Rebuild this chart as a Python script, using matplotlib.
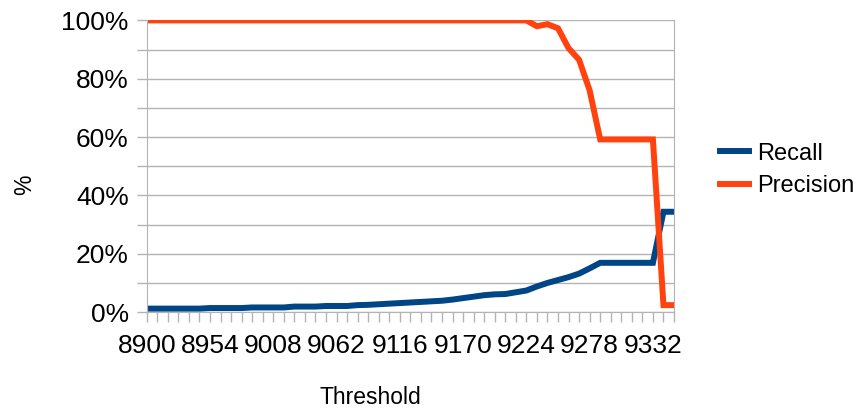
import matplotlib
matplotlib.use("Agg")
import matplotlib.pyplot as plt
from matplotlib.ticker import FixedLocator, FuncFormatter

plt.rcParams['font.family'] = ['Liberation Sans', 'DejaVu Sans']

# thresholds, one category every 9 units
thresholds = list(range(8900, 9351, 9))

recall = [1.2, 1.2, 1.2, 1.2, 1.2, 1.2,
          1.4, 1.4, 1.4, 1.4, 1.6, 1.6, 1.6, 1.6,
          1.9, 1.9, 1.9, 2.1, 2.1, 2.1,
          2.4, 2.5, 2.7, 2.9, 3.1, 3.3, 3.5, 3.7, 3.9, 4.3,
          4.8, 5.3, 5.8, 6.1, 6.2, 6.8, 7.4, 8.8, 10.0, 11.0,
          12.0, 13.2, 15.0, 16.9, 16.9, 16.9, 16.9, 16.9, 16.9,
          34.4, 34.4]

precision = [100.0] * 37 + [98.0, 98.7, 97.3, 90.5, 86.5, 76.0,
                            59.2, 59.2, 59.2, 59.2, 59.2, 59.2,
                            2.4, 2.4]

series_names = ['Recall', 'Precision']
colors = ['#004586', '#ff420e']
grey = '#b3b3b3'

fig = plt.figure(figsize=(8.63, 4.08), dpi=100)
ax = fig.add_axes([0.170, 0.235, 0.611, 0.715])

xs = list(range(len(thresholds)))
ax.plot(xs, recall, color=colors[0], lw=4.3, label=series_names[0], solid_joinstyle='miter')
ax.plot(xs, precision, color=colors[1], lw=4.3, label=series_names[1], solid_joinstyle='miter')

ax.set_xlim(0, len(thresholds) - 1)
ax.set_ylim(0, 100)

ax.set_xticks(xs)
ax.set_xticklabels([str(t) if i % 6 == 0 else '' for i, t in enumerate(thresholds)])
ax.yaxis.set_major_locator(FixedLocator(range(0, 101, 20)))
ax.yaxis.set_minor_locator(FixedLocator(range(10, 100, 20)))
ax.yaxis.set_major_formatter(FuncFormatter(lambda v, p: '%d%%' % v))

ax.tick_params(axis='x', length=7, width=1, color=grey, labelsize=19, pad=9, direction='out')
ax.tick_params(axis='y', which='both', length=7, width=1, color=grey, labelsize=19, pad=6, direction='out')

ax.grid(True, axis='y', which='both', color=grey, lw=1)
ax.set_axisbelow(True)
for side in ['left', 'bottom', 'right']:
    ax.spines[side].set_color(grey)
ax.spines['top'].set_visible(False)

# axis titles sit off-centre in the original, so place them on the figure
fig.text(370 / 863, 1 - 397 / 408, 'Threshold', fontsize=16.5, ha='center', va='center')
fig.text(25 / 863, 1 - 185 / 408, '%', fontsize=16.5, ha='center', va='center', rotation=90)

leg = ax.legend(loc='center left', bbox_to_anchor=(1.055, 0.487), frameon=False,
                fontsize=17, handlelength=1.25, handletextpad=0.35, labelspacing=0.45,
                borderpad=0.2)

fig.savefig('out.png', dpi=100)
